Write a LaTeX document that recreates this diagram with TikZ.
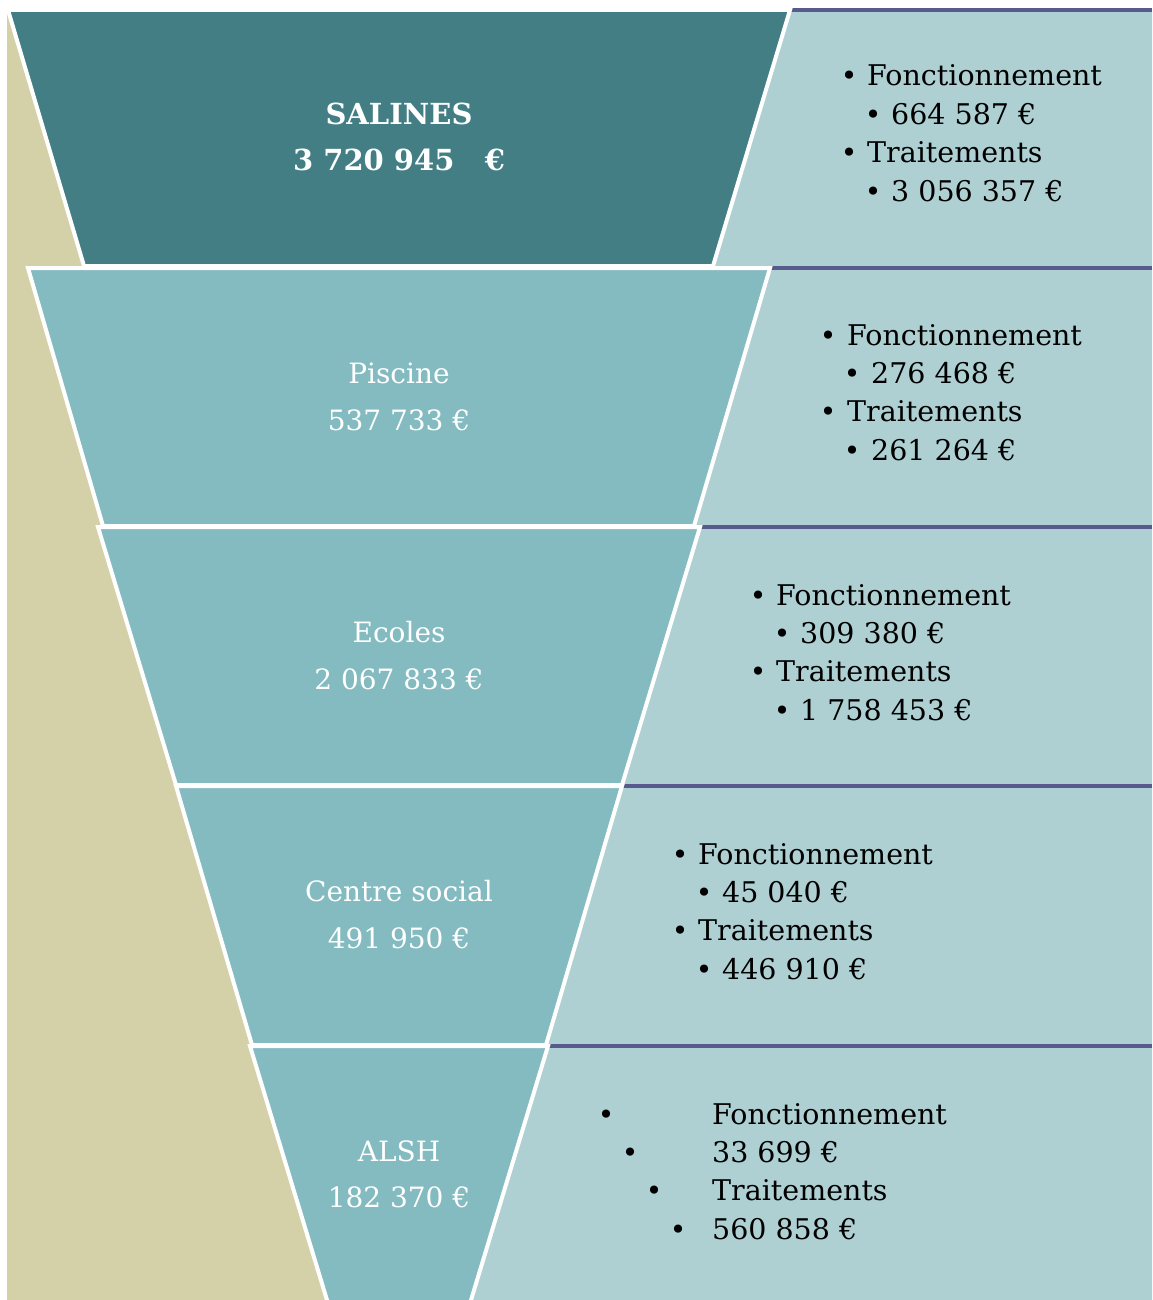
\documentclass[tikz,border=0pt]{standalone}
\usepackage{fontspec}
\setmainfont{DejaVu Serif}
\definecolor{darkteal}{HTML}{427E84}
\definecolor{midteal}{HTML}{84BBC1}
\definecolor{lightteal}{HTML}{AFD0D3}
\definecolor{beige}{HTML}{D4D1A8}
\definecolor{purpleline}{HTML}{575A8C}
\tikzset{
  level/.style={draw=white, line width=4pt, line join=miter},
  panel/.style={fill=lightteal},
  topline/.style={draw=purpleline, line width=4pt},
  lbl/.style={text=white, font=\fontsize{28}{32}\selectfont, align=center, inner sep=0pt},
  boldlbl/.style={lbl, font=\fontsize{29}{32}\selectfont\bfseries},
  itm/.style={anchor=base west, inner sep=0pt, font=\fontsize{28.5}{32}\selectfont},
  bul/.style={anchor=base, inner sep=0pt, font=\fontsize{28}{32}\selectfont},
}
\begin{document}
\begin{tikzpicture}[x=1pt,y=-1pt]
\useasboundingbox (0,0) rectangle (1152,1300);
\fill[white] (0,0) rectangle (1152,1300);
% beige background left
\fill[beige] (7,10) rectangle (520,1300);
% right panels
\foreach \yt/\yb/\xt/\xb in {10/266/790/713, 268/526/770/694, 527/785/700/622, 786/1045/622/546, 1046/1304/548/468}{
  \fill[panel] (\xt,\yt) -- (1152,\yt) -- (1152,\yb) -- (\xb,\yb) -- cycle;
  \draw[topline] (\xt,\yt) -- (1152,\yt);
}
% funnel levels
\filldraw[level, fill=darkteal] (8,10) -- (790,10) -- (713,266) -- (84,266) -- cycle;
\filldraw[level, fill=midteal] (28,268) -- (770,268) -- (694,526) -- (103,526) -- cycle;
\filldraw[level, fill=midteal] (98,527) -- (700,527) -- (622,785) -- (176,785) -- cycle;
\filldraw[level, fill=midteal] (176,786) -- (622,786) -- (546,1045) -- (252,1045) -- cycle;
\filldraw[level, fill=midteal] (250,1046) -- (548,1046) -- (468,1310) -- (330,1310) -- cycle;
% funnel labels
\node[boldlbl] (l1a) at (399,114) {SALINES};
\node[boldlbl] (l1b) at (399,160) {3 720 945 \ \ €};
\node[lbl] (l2a) at (399,373) {Piscine};
\node[lbl] (l2b) at (399,420) {537 733 €};
\node[lbl] (l3a) at (399,632) {Ecoles};
\node[lbl] (l3b) at (399,679) {2 067 833 €};
\node[lbl] (l4a) at (399,891) {Centre social};
\node[lbl] (l4b) at (399,938) {491 950 €};
\node[lbl] (l5a) at (399,1151) {ALSH};
\node[lbl] (l5b) at (399,1197) {182 370 €};
% right panel bullets
\foreach \n/\bx/\by in {1/849/86, 2/828/345, 3/758/605, 4/680/864}{
  \pgfmathsetmacro{\bxs}{\bx+24}
  \pgfmathsetmacro{\ya}{\by+38.5}
  \pgfmathsetmacro{\yb}{\by+76.5}
  \pgfmathsetmacro{\yc}{\by+115}
  \node[bul] (b\n a) at (\bx,\by) {•};
  \node[bul] (b\n b) at (\bxs,\ya) {•};
  \node[bul] (b\n c) at (\bx,\yb) {•};
  \node[bul] (b\n d) at (\bxs,\yc) {•};
}
\node[itm] (t1a) at (867,86) {Fonctionnement};
\node[itm] (t1b) at (891,124.5) {664 587 €};
\node[itm] (t1c) at (867,162.5) {Traitements};
\node[itm] (t1d) at (891,201) {3 056 357 €};
\node[itm] (t2a) at (847,345) {Fonctionnement};
\node[itm] (t2b) at (871,383.5) {276 468 €};
\node[itm] (t2c) at (847,421.5) {Traitements};
\node[itm] (t2d) at (871,460) {261 264 €};
\node[itm] (t3a) at (776,605) {Fonctionnement};
\node[itm] (t3b) at (800,643.5) {309 380 €};
\node[itm] (t3c) at (776,681.5) {Traitements};
\node[itm] (t3d) at (800,720) {1 758 453 €};
\node[itm] (t4a) at (698,864) {Fonctionnement};
\node[itm] (t4b) at (722,902.5) {45 040 €};
\node[itm] (t4c) at (698,940.5) {Traitements};
\node[itm] (t4d) at (722,979) {446 910 €};
% last panel
\node[bul] (b5a) at (606,1124) {•};
\node[bul] (b5b) at (630,1162.5) {•};
\node[bul] (b5c) at (654,1200.5) {•};
\node[bul] (b5d) at (678,1239) {•};
\node[itm] (t5a) at (712,1124) {Fonctionnement};
\node[itm] (t5b) at (712,1162.5) {33 699 €};
\node[itm] (t5c) at (712,1200.5) {Traitements};
\node[itm] (t5d) at (712,1239) {560 858 €};
\end{tikzpicture}
\end{document}
